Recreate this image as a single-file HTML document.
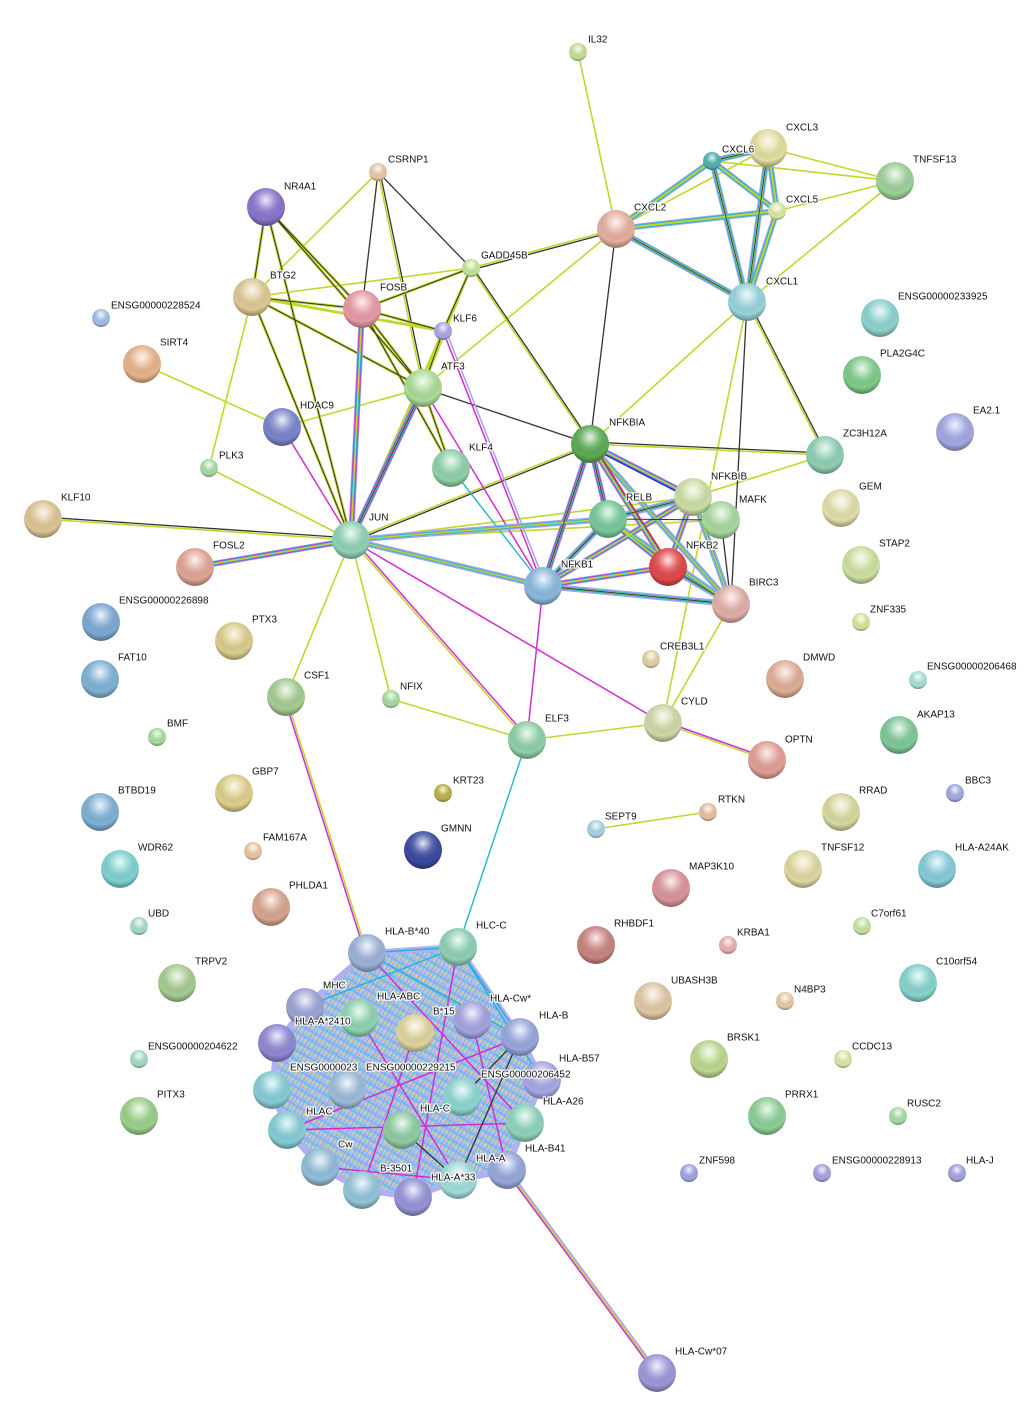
<!DOCTYPE html>
<html><head><meta charset="utf-8">
<style>
html,body{margin:0;padding:0;background:#fff;}
svg{display:block;}
text{font-family:"Liberation Sans",sans-serif;font-size:10px;fill:#111;paint-order:stroke;stroke:#fff;stroke-width:2.5px;stroke-linejoin:round;dominant-baseline:middle;}
.y{stroke:#c3d62a;stroke-width:1.6;fill:none}
.k{stroke:#333;stroke-width:1.3;fill:none}
.c{stroke:#1fb3d6;stroke-width:1.4;fill:none}
.m{stroke:#d52ad5;stroke-width:1.5;fill:none}
.l{stroke:#a3a3f5;stroke-width:1.5;fill:none}
.M1{stroke:#a3a3f5;stroke-width:6;fill:none}
.M2{stroke:#1fb3d6;stroke-width:4;fill:none}
.M3{stroke:#c3d62a;stroke-width:2;fill:none}
.M4{stroke:#333;stroke-width:0.9;fill:none}
</style></head><body>
<svg width="1027" height="1418" viewBox="0 0 1027 1418" xmlns="http://www.w3.org/2000/svg">
<defs>
<radialGradient id="sh" cx="50%" cy="32%" r="68%">
<stop offset="0" stop-color="#fff" stop-opacity="0.85"/>
<stop offset="0.35" stop-color="#fff" stop-opacity="0.2"/>
<stop offset="0.75" stop-color="#000" stop-opacity="0"/>
<stop offset="1" stop-color="#000" stop-opacity="0.35"/>
</radialGradient>
<pattern id="mesh" width="8" height="8" patternUnits="userSpaceOnUse" patternTransform="rotate(30)">
<rect width="8" height="8" fill="#aab0f0"/>
<line x1="0" y1="1.5" x2="8" y2="1.5" stroke="#2bbad8" stroke-width="1.2"/>
<line x1="0" y1="5" x2="8" y2="5" stroke="#d3df3a" stroke-width="1.1"/>
<line x1="3" y1="0" x2="3" y2="8" stroke="#9090ee" stroke-width="1.2"/>
<line x1="6.5" y1="0" x2="6.5" y2="8" stroke="#2bbad8" stroke-width="0.7"/>
</pattern>
</defs>

<!-- HLA mesh -->
<path d="M367,953 L458,947 L520,1037 L542,1080 L525,1123 L507,1170 L458,1180 L413,1197 L362,1190 L320,1167 L287,1130 L272,1090 L277,1043 L305,1007 Z" fill="url(#mesh)" stroke="#a3a3f0" stroke-width="6" stroke-linejoin="round" opacity="0.85"/>
<g class="m">
<line x1="287" y1="1130" x2="520" y2="1037"/><line x1="287" y1="1130" x2="525" y2="1123"/>
<line x1="320" y1="1167" x2="458" y2="1180"/><line x1="359" y1="1018" x2="458" y2="1180"/>
<line x1="415" y1="1033" x2="362" y2="1190"/><line x1="367" y1="953" x2="525" y2="1123"/>
<line x1="458" y1="947" x2="413" y2="1197"/><line x1="472" y1="1020" x2="507" y2="1170"/>
</g>
<g class="k"><line x1="402" y1="1130" x2="458" y2="1180"/><line x1="520" y1="1037" x2="458" y2="1180"/><line x1="462" y1="1097" x2="520" y2="1037"/></g>
<g class="c"><line x1="367" y1="953" x2="458" y2="947"/><line x1="458" y1="947" x2="305" y2="1007"/><line x1="458" y1="947" x2="520" y2="1037"/><line x1="458" y1="947" x2="542" y2="1080"/><line x1="367" y1="953" x2="520" y2="1037"/></g>

<!-- edges -->
<g>
<line class="y" x1="578" y1="52" x2="616" y2="229"/>
<line class="y" x1="768" y1="148" x2="895" y2="181"/>
<line class="y" x1="712" y1="161" x2="895" y2="181"/>
<line class="y" x1="777" y1="211" x2="895" y2="181"/>
<line class="y" x1="747" y1="302" x2="895" y2="181"/>
<line class="y" x1="616" y1="229" x2="768" y2="148"/>
</g>
<g>
<path class="M1" d="M768,148 L712,161 M768,148 L777,211 M768,148 L747,302 M712,161 L777,211 M712,161 L747,302 M712,161 L616,229 M777,211 L747,302 M777,211 L616,229 M616,229 L747,302"/>
<path class="M2" d="M768,148 L712,161 M768,148 L777,211 M768,148 L747,302 M712,161 L777,211 M712,161 L747,302 M712,161 L616,229 M777,211 L747,302 M777,211 L616,229 M616,229 L747,302"/>
<path class="M3" d="M768,148 L712,161 M768,148 L777,211 M768,148 L747,302 M712,161 L777,211 M712,161 L747,302 M712,161 L616,229 M777,211 L747,302 M777,211 L616,229 M616,229 L747,302"/>
<path class="M4" d="M768,148 L712,161 M768,148 L747,302 M712,161 L747,302 M616,229 L747,302"/>
</g>
<g class="y">
<line x1="616" y1="229" x2="471" y2="268"/><line x1="616" y1="229" x2="423" y2="388"/>
<line x1="747" y1="302" x2="590" y2="444"/><line x1="747" y1="302" x2="663" y2="723"/>
<line x1="747" y1="302" x2="825" y2="455"/>
<line x1="378" y1="172" x2="252" y2="297"/><line x1="378" y1="172" x2="423" y2="388"/>
<line x1="282" y1="427" x2="423" y2="388"/><line x1="142" y1="364" x2="282" y2="427"/>
<line x1="209" y1="468" x2="351" y2="540"/><line x1="252" y1="297" x2="209" y2="468"/>
<line x1="43" y1="519" x2="351" y2="540"/>
<line x1="471" y1="268" x2="590" y2="444"/><line x1="471" y1="268" x2="351" y2="540"/>
<line x1="590" y1="444" x2="825" y2="455"/><line x1="693" y1="497" x2="825" y2="455"/>
<line x1="351" y1="540" x2="590" y2="444"/><line x1="351" y1="540" x2="693" y2="497"/>
<line x1="351" y1="540" x2="286" y2="697"/><line x1="351" y1="540" x2="391" y2="699"/>
<line x1="351" y1="540" x2="527" y2="740"/><line x1="391" y1="699" x2="527" y2="740"/>
<line x1="527" y1="740" x2="663" y2="723"/><line x1="731" y1="604" x2="663" y2="723"/>
<line x1="663" y1="723" x2="767" y2="760"/><line x1="596" y1="829" x2="708" y2="812"/>
<line x1="286" y1="697" x2="367" y2="953"/>
<line x1="507" y1="1170" x2="657" y2="1373"/>
<line x1="351" y1="540" x2="721" y2="520"/>
<line x1="423" y1="388" x2="471" y2="268"/>
<line x1="252" y1="297" x2="471" y2="268"/>
</g>
<g class="k">
<line x1="616" y1="229" x2="471" y2="268" transform="translate(0,2)"/>
<line x1="616" y1="229" x2="590" y2="444"/>
<line x1="747" y1="302" x2="825" y2="455" transform="translate(2,0)"/>
<line x1="747" y1="302" x2="731" y2="604"/>
<line x1="378" y1="172" x2="362" y2="309"/><line x1="378" y1="172" x2="471" y2="268"/>
<line x1="378" y1="172" x2="423" y2="388" transform="translate(2,0)"/>
<line x1="43" y1="519" x2="351" y2="540" transform="translate(0,-2)"/>
<line x1="471" y1="268" x2="590" y2="444" transform="translate(2,0)"/>
<line x1="423" y1="388" x2="590" y2="444"/>
<line x1="590" y1="444" x2="825" y2="455" transform="translate(0,-2)"/>
<line x1="351" y1="540" x2="590" y2="444" transform="translate(0,2)"/>
<line x1="721" y1="520" x2="731" y2="604"/>
<line x1="351" y1="540" x2="608" y2="519"/>
<line x1="693" y1="497" x2="731" y2="604"/>
</g>
<g class="m">
<line x1="282" y1="427" x2="351" y2="540"/>
<line x1="443" y1="331" x2="543" y2="586"/>
<line x1="423" y1="388" x2="543" y2="586"/>
<line x1="543" y1="586" x2="527" y2="740"/>
<line x1="351" y1="540" x2="527" y2="740" transform="translate(2,-1)"/>
<line x1="351" y1="540" x2="663" y2="723"/>
<line x1="663" y1="723" x2="767" y2="760" transform="translate(0,-2)"/>
<line x1="286" y1="697" x2="367" y2="953" transform="translate(-2,0)"/>
<line x1="507" y1="1170" x2="657" y2="1373" transform="translate(-2,0)"/>
</g>
<line class="l" x1="507" y1="1170" x2="657" y2="1373" transform="translate(2,0)"/>
<line class="l" x1="443" y1="331" x2="543" y2="586" transform="translate(3,0)"/>
<line class="c" x1="451" y1="468" x2="543" y2="586"/>
<line class="c" x1="527" y1="740" x2="458" y2="947"/>

<g>
<path class="M3" style="stroke-width:2.8" d="M266,207 L362,309 M266,207 L252,297 M266,207 L423,388 M266,207 L351,540 M252,297 L362,309 M252,297 L443,331 M252,297 L423,388 M252,297 L351,540 M362,309 L471,268 M362,309 L443,331 M362,309 L423,388 M362,309 L451,468 M443,331 L423,388 M443,331 L351,540 M423,388 L451,468 M471,268 L443,331"/>
<path class="M4" style="stroke-width:1" d="M266,207 L362,309 M266,207 L252,297 M266,207 L423,388 M266,207 L351,540 M252,297 L362,309 M252,297 L423,388 M252,297 L351,540 M362,309 L471,268 M362,309 L443,331 M362,309 L423,388 M362,309 L451,468 M443,331 L423,388 M423,388 L451,468 M471,268 L443,331"/>
</g>
<g>
<path class="M1" d="M362,309 L351,540 M423,388 L351,540 M351,540 L195,567"/>
<path class="m" style="stroke-width:4.5" d="M362,309 L351,540 M423,388 L351,540 M351,540 L195,567"/>
<path class="M2" style="stroke-width:3" d="M362,309 L351,540 M423,388 L351,540 M351,540 L195,567"/>
<path class="M3" style="stroke-width:1.4" d="M362,309 L351,540 M423,388 L351,540 M351,540 L195,567"/>
<path class="M4" d="M423,388 L351,540"/>
</g>
<g>
<path class="M1" d="M590,444 L693,497 M590,444 L608,519 M590,444 L668,567 M590,444 L543,586 M590,444 L731,604 M693,497 L608,519 M693,497 L543,586 M693,497 L668,567 M693,497 L731,604 M608,519 L543,586 M608,519 L668,567 M608,519 L731,604 M543,586 L668,567 M543,586 L731,604 M668,567 L731,604 M351,540 L543,586 M351,540 L608,519"/>
<path class="m" style="stroke-width:4.5" d="M590,444 L693,497 M590,444 L608,519 M590,444 L668,567 M590,444 L543,586 M693,497 L543,586 M693,497 L668,567 M608,519 L668,567 M543,586 L668,567"/>
<path class="M2" style="stroke-width:3" d="M590,444 L693,497 M590,444 L608,519 M590,444 L668,567 M590,444 L543,586 M590,444 L731,604 M693,497 L608,519 M693,497 L543,586 M693,497 L668,567 M693,497 L731,604 M608,519 L543,586 M608,519 L668,567 M608,519 L731,604 M543,586 L668,567 M543,586 L731,604 M668,567 L731,604 M351,540 L543,586 M351,540 L608,519"/>
<path class="M3" style="stroke-width:1.5" d="M590,444 L693,497 M590,444 L608,519 M590,444 L668,567 M590,444 L543,586 M590,444 L731,604 M693,497 L608,519 M693,497 L543,586 M693,497 L668,567 M693,497 L731,604 M608,519 L543,586 M608,519 L668,567 M608,519 L731,604 M543,586 L668,567 M543,586 L731,604 M668,567 L731,604 M351,540 L543,586 M351,540 L608,519"/>
<path class="M4" d="M590,444 L608,519 M590,444 L543,586 M608,519 L543,586 M608,519 L721,520 M693,497 L608,519 M668,567 L731,604 M543,586 L731,604"/>
<line x1="590" y1="444" x2="693" y2="497" stroke="#2424e0" stroke-width="1.3" transform="translate(0,3)"/>
<line x1="590" y1="444" x2="668" y2="567" stroke="#e02424" stroke-width="1.3" transform="translate(3,0)"/>
</g>

<g id="nodes">
<circle cx="578" cy="52" r="9" fill="#c3df9a"/>
<circle cx="768" cy="148" r="19" fill="#e3dea0"/>
<circle cx="712" cy="161" r="9" fill="#4fb2ae"/>
<circle cx="895" cy="181" r="19" fill="#9fd09a"/>
<circle cx="777" cy="211" r="9" fill="#dde7a6"/>
<circle cx="616" cy="229" r="19" fill="#e6afa0"/>
<circle cx="378" cy="172" r="9" fill="#e7c9a6"/>
<circle cx="266" cy="207" r="19" fill="#8a74cc"/>
<circle cx="471" cy="268" r="9" fill="#c7e49a"/>
<circle cx="252" cy="297" r="19" fill="#ddc994"/>
<circle cx="362" cy="309" r="19" fill="#e69aa5"/>
<circle cx="443" cy="331" r="9" fill="#a8a8e8"/>
<circle cx="101" cy="318" r="9" fill="#a3bfe3"/>
<circle cx="747" cy="302" r="19" fill="#98d3da"/>
<circle cx="880" cy="318" r="19" fill="#8dd2d0"/>
<circle cx="142" cy="364" r="19" fill="#e6b48c"/>
<circle cx="423" cy="388" r="19" fill="#acdc98"/>
<circle cx="862" cy="375" r="19" fill="#7ecb8a"/>
<circle cx="282" cy="427" r="19" fill="#7b84cc"/>
<circle cx="955" cy="432" r="19" fill="#a3a8e3"/>
<circle cx="590" cy="444" r="19" fill="#5aac55"/>
<circle cx="825" cy="455" r="19" fill="#8fcfb4"/>
<circle cx="209" cy="468" r="9" fill="#a8dca8"/>
<circle cx="451" cy="468" r="19" fill="#8fd0a8"/>
<circle cx="43" cy="519" r="19" fill="#ddc594"/>
<circle cx="693" cy="497" r="19" fill="#ccdea6"/>
<circle cx="841" cy="508" r="19" fill="#e1deaa"/>
<circle cx="608" cy="519" r="19" fill="#78c89a"/>
<circle cx="721" cy="520" r="19" fill="#a8d8a0"/>
<circle cx="351" cy="540" r="19" fill="#8fd2b4"/>
<circle cx="195" cy="567" r="19" fill="#e0a595"/>
<circle cx="861" cy="565" r="19" fill="#cde1a0"/>
<circle cx="668" cy="567" r="19" fill="#e0484a"/>
<circle cx="543" cy="586" r="19" fill="#8ab8de"/>
<circle cx="731" cy="604" r="19" fill="#e2aea8"/>
<circle cx="101" cy="622" r="19" fill="#7ea9d6"/>
<circle cx="234" cy="641" r="19" fill="#dccd8c"/>
<circle cx="861" cy="622" r="9" fill="#d4e6a0"/>
<circle cx="651" cy="659" r="9" fill="#e4d1a8"/>
<circle cx="100" cy="679" r="19" fill="#7eb2d6"/>
<circle cx="785" cy="679" r="19" fill="#e0ae98"/>
<circle cx="918" cy="680" r="9" fill="#a8e0d4"/>
<circle cx="286" cy="697" r="19" fill="#a6cc92"/>
<circle cx="391" cy="699" r="9" fill="#a8dca0"/>
<circle cx="157" cy="737" r="9" fill="#a8dca0"/>
<circle cx="527" cy="740" r="19" fill="#8fcfa8"/>
<circle cx="663" cy="723" r="19" fill="#cfd8a8"/>
<circle cx="899" cy="735" r="19" fill="#7fc898"/>
<circle cx="767" cy="760" r="19" fill="#e0a095"/>
<circle cx="234" cy="793" r="19" fill="#ddcf8c"/>
<circle cx="443" cy="793" r="9" fill="#bcb24a"/>
<circle cx="955" cy="793" r="9" fill="#a3a8e3"/>
<circle cx="100" cy="812" r="19" fill="#7eb2d6"/>
<circle cx="708" cy="812" r="9" fill="#e8c0a4"/>
<circle cx="596" cy="829" r="9" fill="#a8d4e3"/>
<circle cx="841" cy="812" r="19" fill="#d8d8a0"/>
<circle cx="423" cy="850" r="19" fill="#3a4aa0"/>
<circle cx="253" cy="851" r="9" fill="#e8caa4"/>
<circle cx="120" cy="869" r="19" fill="#7ed2d0"/>
<circle cx="803" cy="869" r="19" fill="#e0d8a0"/>
<circle cx="937" cy="869" r="19" fill="#86ccd8"/>
<circle cx="671" cy="888" r="19" fill="#d8959a"/>
<circle cx="271" cy="907" r="19" fill="#d8a490"/>
<circle cx="139" cy="926" r="9" fill="#a8dcc4"/>
<circle cx="862" cy="926" r="9" fill="#c8e4a4"/>
<circle cx="596" cy="945" r="19" fill="#c88480"/>
<circle cx="728" cy="945" r="9" fill="#eab0b0"/>
<circle cx="177" cy="983" r="19" fill="#a6cc92"/>
<circle cx="918" cy="983" r="19" fill="#86d4cc"/>
<circle cx="653" cy="1001" r="19" fill="#e0c8a4"/>
<circle cx="785" cy="1001" r="9" fill="#eacaa8"/>
<circle cx="709" cy="1059" r="19" fill="#bcd890"/>
<circle cx="843" cy="1059" r="9" fill="#dbe6a8"/>
<circle cx="139" cy="1059" r="9" fill="#a8dcc4"/>
<circle cx="139" cy="1116" r="19" fill="#9cd08a"/>
<circle cx="767" cy="1116" r="19" fill="#8ccf98"/>
<circle cx="898" cy="1116" r="9" fill="#a8dca8"/>
<circle cx="689" cy="1173" r="9" fill="#a3a3e3"/>
<circle cx="822" cy="1173" r="9" fill="#a3a3e3"/>
<circle cx="957" cy="1173" r="9" fill="#a3a3e3"/>
<circle cx="657" cy="1373" r="19" fill="#9c98d8"/>
<circle cx="367" cy="953" r="19" fill="#9cb2d8"/>
<circle cx="458" cy="947" r="19" fill="#8fd0b4"/>
<circle cx="305" cy="1007" r="19" fill="#9ca4d6"/>
<circle cx="359" cy="1018" r="19" fill="#8fd4b0"/>
<circle cx="415" cy="1033" r="19" fill="#e0d49c"/>
<circle cx="472" cy="1020" r="19" fill="#a4a4e0"/>
<circle cx="520" cy="1037" r="19" fill="#98a8dc"/>
<circle cx="277" cy="1043" r="19" fill="#8f88d4"/>
<circle cx="347" cy="1090" r="19" fill="#9cbcd8"/>
<circle cx="542" cy="1080" r="19" fill="#a8a8e6"/>
<circle cx="462" cy="1097" r="19" fill="#8ed6d0"/>
<circle cx="272" cy="1090" r="19" fill="#86ccd4"/>
<circle cx="287" cy="1130" r="19" fill="#86ccd4"/>
<circle cx="402" cy="1130" r="19" fill="#8fcca4"/>
<circle cx="525" cy="1123" r="19" fill="#8ed4bc"/>
<circle cx="507" cy="1170" r="19" fill="#98a8dc"/>
<circle cx="320" cy="1167" r="19" fill="#92bcd8"/>
<circle cx="362" cy="1190" r="19" fill="#92c4d8"/>
<circle cx="413" cy="1197" r="19" fill="#9494d8"/>
<circle cx="458" cy="1180" r="19" fill="#a0dcd8"/>
</g>
<g fill="url(#sh)">
<circle cx="578" cy="52" r="9"/><circle cx="768" cy="148" r="19"/><circle cx="712" cy="161" r="9"/><circle cx="895" cy="181" r="19"/><circle cx="777" cy="211" r="9"/><circle cx="616" cy="229" r="19"/><circle cx="378" cy="172" r="9"/><circle cx="266" cy="207" r="19"/><circle cx="471" cy="268" r="9"/><circle cx="252" cy="297" r="19"/><circle cx="362" cy="309" r="19"/><circle cx="443" cy="331" r="9"/><circle cx="101" cy="318" r="9"/><circle cx="747" cy="302" r="19"/><circle cx="880" cy="318" r="19"/><circle cx="142" cy="364" r="19"/><circle cx="423" cy="388" r="19"/><circle cx="862" cy="375" r="19"/><circle cx="282" cy="427" r="19"/><circle cx="955" cy="432" r="19"/><circle cx="590" cy="444" r="19"/><circle cx="825" cy="455" r="19"/><circle cx="209" cy="468" r="9"/><circle cx="451" cy="468" r="19"/><circle cx="43" cy="519" r="19"/><circle cx="693" cy="497" r="19"/><circle cx="841" cy="508" r="19"/><circle cx="608" cy="519" r="19"/><circle cx="721" cy="520" r="19"/><circle cx="351" cy="540" r="19"/><circle cx="195" cy="567" r="19"/><circle cx="861" cy="565" r="19"/><circle cx="668" cy="567" r="19"/><circle cx="543" cy="586" r="19"/><circle cx="731" cy="604" r="19"/><circle cx="101" cy="622" r="19"/><circle cx="234" cy="641" r="19"/><circle cx="861" cy="622" r="9"/><circle cx="651" cy="659" r="9"/><circle cx="100" cy="679" r="19"/><circle cx="785" cy="679" r="19"/><circle cx="918" cy="680" r="9"/><circle cx="286" cy="697" r="19"/><circle cx="391" cy="699" r="9"/><circle cx="157" cy="737" r="9"/><circle cx="527" cy="740" r="19"/><circle cx="663" cy="723" r="19"/><circle cx="899" cy="735" r="19"/><circle cx="767" cy="760" r="19"/><circle cx="234" cy="793" r="19"/><circle cx="443" cy="793" r="9"/><circle cx="955" cy="793" r="9"/><circle cx="100" cy="812" r="19"/><circle cx="708" cy="812" r="9"/><circle cx="596" cy="829" r="9"/><circle cx="841" cy="812" r="19"/><circle cx="423" cy="850" r="19"/><circle cx="253" cy="851" r="9"/><circle cx="120" cy="869" r="19"/><circle cx="803" cy="869" r="19"/><circle cx="937" cy="869" r="19"/><circle cx="671" cy="888" r="19"/><circle cx="271" cy="907" r="19"/><circle cx="139" cy="926" r="9"/><circle cx="862" cy="926" r="9"/><circle cx="596" cy="945" r="19"/><circle cx="728" cy="945" r="9"/><circle cx="177" cy="983" r="19"/><circle cx="918" cy="983" r="19"/><circle cx="653" cy="1001" r="19"/><circle cx="785" cy="1001" r="9"/><circle cx="709" cy="1059" r="19"/><circle cx="843" cy="1059" r="9"/><circle cx="139" cy="1059" r="9"/><circle cx="139" cy="1116" r="19"/><circle cx="767" cy="1116" r="19"/><circle cx="898" cy="1116" r="9"/><circle cx="689" cy="1173" r="9"/><circle cx="822" cy="1173" r="9"/><circle cx="957" cy="1173" r="9"/><circle cx="657" cy="1373" r="19"/>
<circle cx="367" cy="953" r="19"/><circle cx="458" cy="947" r="19"/><circle cx="305" cy="1007" r="19"/><circle cx="359" cy="1018" r="19"/><circle cx="415" cy="1033" r="19"/><circle cx="472" cy="1020" r="19"/><circle cx="520" cy="1037" r="19"/><circle cx="277" cy="1043" r="19"/><circle cx="347" cy="1090" r="19"/><circle cx="542" cy="1080" r="19"/><circle cx="462" cy="1097" r="19"/><circle cx="272" cy="1090" r="19"/><circle cx="287" cy="1130" r="19"/><circle cx="402" cy="1130" r="19"/><circle cx="525" cy="1123" r="19"/><circle cx="507" cy="1170" r="19"/><circle cx="320" cy="1167" r="19"/><circle cx="362" cy="1190" r="19"/><circle cx="413" cy="1197" r="19"/><circle cx="458" cy="1180" r="19"/>
</g>

<g>
<text x="588" y="40">IL32</text>
<text x="786" y="128">CXCL3</text>
<text x="722" y="150">CXCL6</text>
<text x="913" y="160">TNFSF13</text>
<text x="786" y="200">CXCL5</text>
<text x="634" y="208">CXCL2</text>
<text x="388" y="160">CSRNP1</text>
<text x="284" y="187">NR4A1</text>
<text x="481" y="256">GADD45B</text>
<text x="270" y="276">BTG2</text>
<text x="380" y="288">FOSB</text>
<text x="453" y="319">KLF6</text>
<text x="111" y="306">ENSG00000228524</text>
<text x="766" y="282">CXCL1</text>
<text x="898" y="297">ENSG00000233925</text>
<text x="160" y="343">SIRT4</text>
<text x="441" y="367">ATF3</text>
<text x="880" y="354">PLA2G4C</text>
<text x="300" y="406">HDAC9</text>
<text x="973" y="411">EA2.1</text>
<text x="609" y="423">NFKBIA</text>
<text x="843" y="434">ZC3H12A</text>
<text x="219" y="456">PLK3</text>
<text x="469" y="448">KLF4</text>
<text x="61" y="498">KLF10</text>
<text x="711" y="477">NFKBIB</text>
<text x="859" y="487">GEM</text>
<text x="626" y="498">RELB</text>
<text x="739" y="500">MAFK</text>
<text x="369" y="518">JUN</text>
<text x="213" y="546">FOSL2</text>
<text x="879" y="544">STAP2</text>
<text x="686" y="546">NFKB2</text>
<text x="561" y="565">NFKB1</text>
<text x="749" y="583">BIRC3</text>
<text x="119" y="601">ENSG00000226898</text>
<text x="252" y="620">PTX3</text>
<text x="870" y="610">ZNF335</text>
<text x="660" y="647">CREB3L1</text>
<text x="118" y="658">FAT10</text>
<text x="803" y="658">DMWD</text>
<text x="927" y="667">ENSG00000206468</text>
<text x="304" y="676">CSF1</text>
<text x="400" y="687">NFIX</text>
<text x="167" y="724">BMF</text>
<text x="545" y="719">ELF3</text>
<text x="681" y="702">CYLD</text>
<text x="917" y="715">AKAP13</text>
<text x="785" y="740">OPTN</text>
<text x="252" y="772">GBP7</text>
<text x="453" y="781">KRT23</text>
<text x="965" y="781">BBC3</text>
<text x="118" y="791">BTBD19</text>
<text x="718" y="800">RTKN</text>
<text x="605" y="817">SEPT9</text>
<text x="859" y="791">RRAD</text>
<text x="441" y="829">GMNN</text>
<text x="263" y="838">FAM167A</text>
<text x="138" y="848">WDR62</text>
<text x="821" y="848">TNFSF12</text>
<text x="955" y="848">HLA-A24AK</text>
<text x="689" y="867">MAP3K10</text>
<text x="289" y="886">PHLDA1</text>
<text x="148" y="914">UBD</text>
<text x="871" y="914">C7orf61</text>
<text x="614" y="924">RHBDF1</text>
<text x="737" y="933">KRBA1</text>
<text x="195" y="962">TRPV2</text>
<text x="936" y="962">C10orf54</text>
<text x="671" y="981">UBASH3B</text>
<text x="794" y="990">N4BP3</text>
<text x="727" y="1038">BRSK1</text>
<text x="852" y="1047">CCDC13</text>
<text x="148" y="1047">ENSG00000204622</text>
<text x="157" y="1095">PITX3</text>
<text x="785" y="1095">PRRX1</text>
<text x="907" y="1104">RUSC2</text>
<text x="699" y="1161">ZNF598</text>
<text x="832" y="1161">ENSG00000228913</text>
<text x="966" y="1161">HLA-J</text>
<text x="675" y="1352">HLA-Cw*07</text>
<text x="385" y="932">HLA-B*40</text>
<text x="476" y="926">HLC-C</text>
<text x="323" y="986">MHC</text>
<text x="377" y="997">HLA-ABC</text>
<text x="433" y="1012">B*15</text>
<text x="490" y="999">HLA-Cw*</text>
<text x="539" y="1016">HLA-B</text>
<text x="295" y="1022">HLA-A*2410</text>
<text x="290" y="1068">ENSG0000023</text>
<text x="366" y="1068">ENSG00000229215</text>
<text x="559" y="1059">HLA-B57</text>
<text x="481" y="1075">ENSG00000206452</text>
<text x="420" y="1109">HLA-C</text>
<text x="543" y="1102">HLA-A26</text>
<text x="306" y="1112">HLAC</text>
<text x="338" y="1145">Cw</text>
<text x="525" y="1149">HLA-B41</text>
<text x="476" y="1159">HLA-A</text>
<text x="380" y="1169">B-3501</text>
<text x="431" y="1178">HLA-A*33</text>
</g>
</svg>
</body></html>
